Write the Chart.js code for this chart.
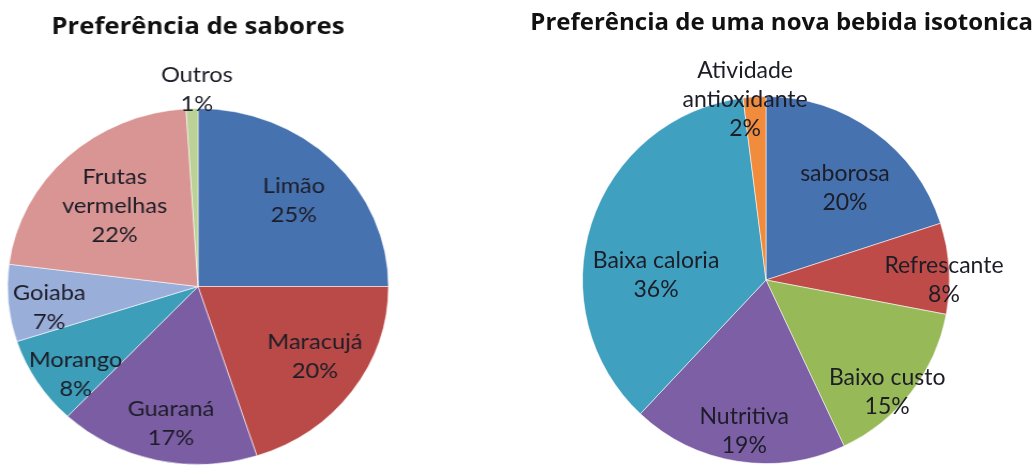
<!DOCTYPE html>
<html>
<head>
<meta charset="utf-8">
<script src="https://cdn.jsdelivr.net/npm/chart.js@4.4.0/dist/chart.umd.min.js"></script>
<style>
html, body { margin: 0; padding: 0; background: #fff; overflow: hidden; width: 1036px; height: 470px; }
.box { position: absolute; top: 0; height: 480px; }
/* o gráfico original da esquerda está um pouco esticado na horizontal */
#left { left: 0; width: 396px; transform: scaleX(1.07); transform-origin: 198px 0; }
#right { left: 499px; width: 534px; }
</style>
</head>
<body>
<div class="box" id="left"><canvas id="saboresChart"></canvas></div>
<div class="box" id="right"><canvas id="bebidaChart"></canvas></div>
<script>
// dados
const saboresLabels = ['Limão', 'Maracujá', 'Guaraná', 'Morango', 'Goiaba', 'Frutas vermelhas', 'Outros'];
const saboresValues = [25, 20, 17, 8, 7, 22, 1];
const saboresColors = ['#4672b0', '#ba4a47', '#7b5da3', '#3c9eb8', '#9aaeda', '#d99593', '#bbd195'];

const bebidaLabels = ['saborosa', 'Refrescante', 'Baixo custo', 'Nutritiva', 'Baixa caloria', 'Atividade antioxidante'];
const bebidaValues = [20, 8, 15, 19, 36, 2];
const bebidaColors = ['#4672b0', '#bf4b48', '#98b957', '#7d5fa6', '#40a0bf', '#f08c3c'];

function wrapText(ctx, text, maxWidth) {
    const words = text.split(' ');
    const lines = [];
    let cur = '';
    words.forEach(w => {
        const test = cur ? cur + ' ' + w : w;
        if (cur && ctx.measureText(test).width > maxWidth) {
            lines.push(cur);
            cur = w;
        } else {
            cur = test;
        }
    });
    if (cur) lines.push(cur);
    return lines;
}

// rótulos dentro das fatias (nome + porcentagem)
const sliceLabels = {
    id: 'sliceLabels',
    afterDatasetsDraw(chart, args, opts) {
        const ctx = chart.ctx;
        const meta = chart.getDatasetMeta(0);
        const values = chart.data.datasets[0].data;
        const total = values.reduce((a, b) => a + b, 0);
        ctx.save();
        ctx.font = opts.font;
        ctx.fillStyle = opts.color;
        ctx.textAlign = 'center';
        ctx.textBaseline = 'middle';
        meta.data.forEach((arc, i) => {
            const p = arc.getProps(['x', 'y', 'startAngle', 'endAngle', 'outerRadius'], true);
            const [f, shift] = opts.place[i];
            const a = (p.startAngle + p.endAngle) / 2 + shift * Math.PI / 180;
            const cx = p.x + Math.cos(a) * p.outerRadius * f;
            const cy = p.y + Math.sin(a) * p.outerRadius * f;
            const lines = wrapText(ctx, chart.data.labels[i], opts.maxWidth);
            lines.push(Math.round(values[i] / total * 100) + '%');
            const top = cy - (lines.length - 1) * opts.lineHeight / 2;
            lines.forEach((t, k) => ctx.fillText(t, cx, top + k * opts.lineHeight));
        });
        ctx.restore();
    }
};

function makePie(canvasId, title, labels, values, colors, cfg) {
    return new Chart(document.getElementById(canvasId), {
        type: 'pie',
        data: {
            labels: labels,
            datasets: [{
                data: values,
                backgroundColor: colors,
                borderColor: 'rgba(255,255,255,0.55)',
                borderWidth: 1
            }]
        },
        options: {
            responsive: true,
            maintainAspectRatio: false,
            animation: false,
            layout: { padding: { top: 0, bottom: cfg.bottom } },
            plugins: {
                legend: { display: false },
                tooltip: { enabled: false },
                title: {
                    display: true,
                    text: title,
                    align: cfg.titleAlign,
                    color: '#111',
                    font: { family: 'Open Sans', size: 24, weight: 'bold', lineHeight: 1.2 },
                    padding: cfg.titlePad
                },
                sliceLabels: {
                    font: cfg.labelSize + 'px Lato',
                    color: '#1d1d28',
                    lineHeight: 29,
                    maxWidth: 145,
                    place: cfg.place
                }
            }
        },
        plugins: [sliceLabels]
    });
}

makePie('saboresChart', 'Preferência de sabores', saboresLabels, saboresValues, saboresColors, {
    titleAlign: 'center', labelSize: 22,
    titlePad: { top: 13, bottom: 66.2 }, bottom: 15,
    place: [[0.70, 1], [0.73, -3.2], [0.78, -2.1], [0.81, -5.1], [0.79, -3.3], [0.63, -0.8], [1.11, 1.5]]
});

makePie('bebidaChart', 'Preferência de uma nova bebida isotonica', bebidaLabels, bebidaValues, bebidaColors, {
    titleAlign: 'end', labelSize: 23,
    titlePad: { top: 8.6, bottom: 58.6 }, bottom: 16,
    place: [[0.66, 4.7], [0.97, 3.6], [0.90, 5], [0.83, -0.8], [0.60, -15.4], [0.99, -3]]
});
</script>
</body>
</html>
